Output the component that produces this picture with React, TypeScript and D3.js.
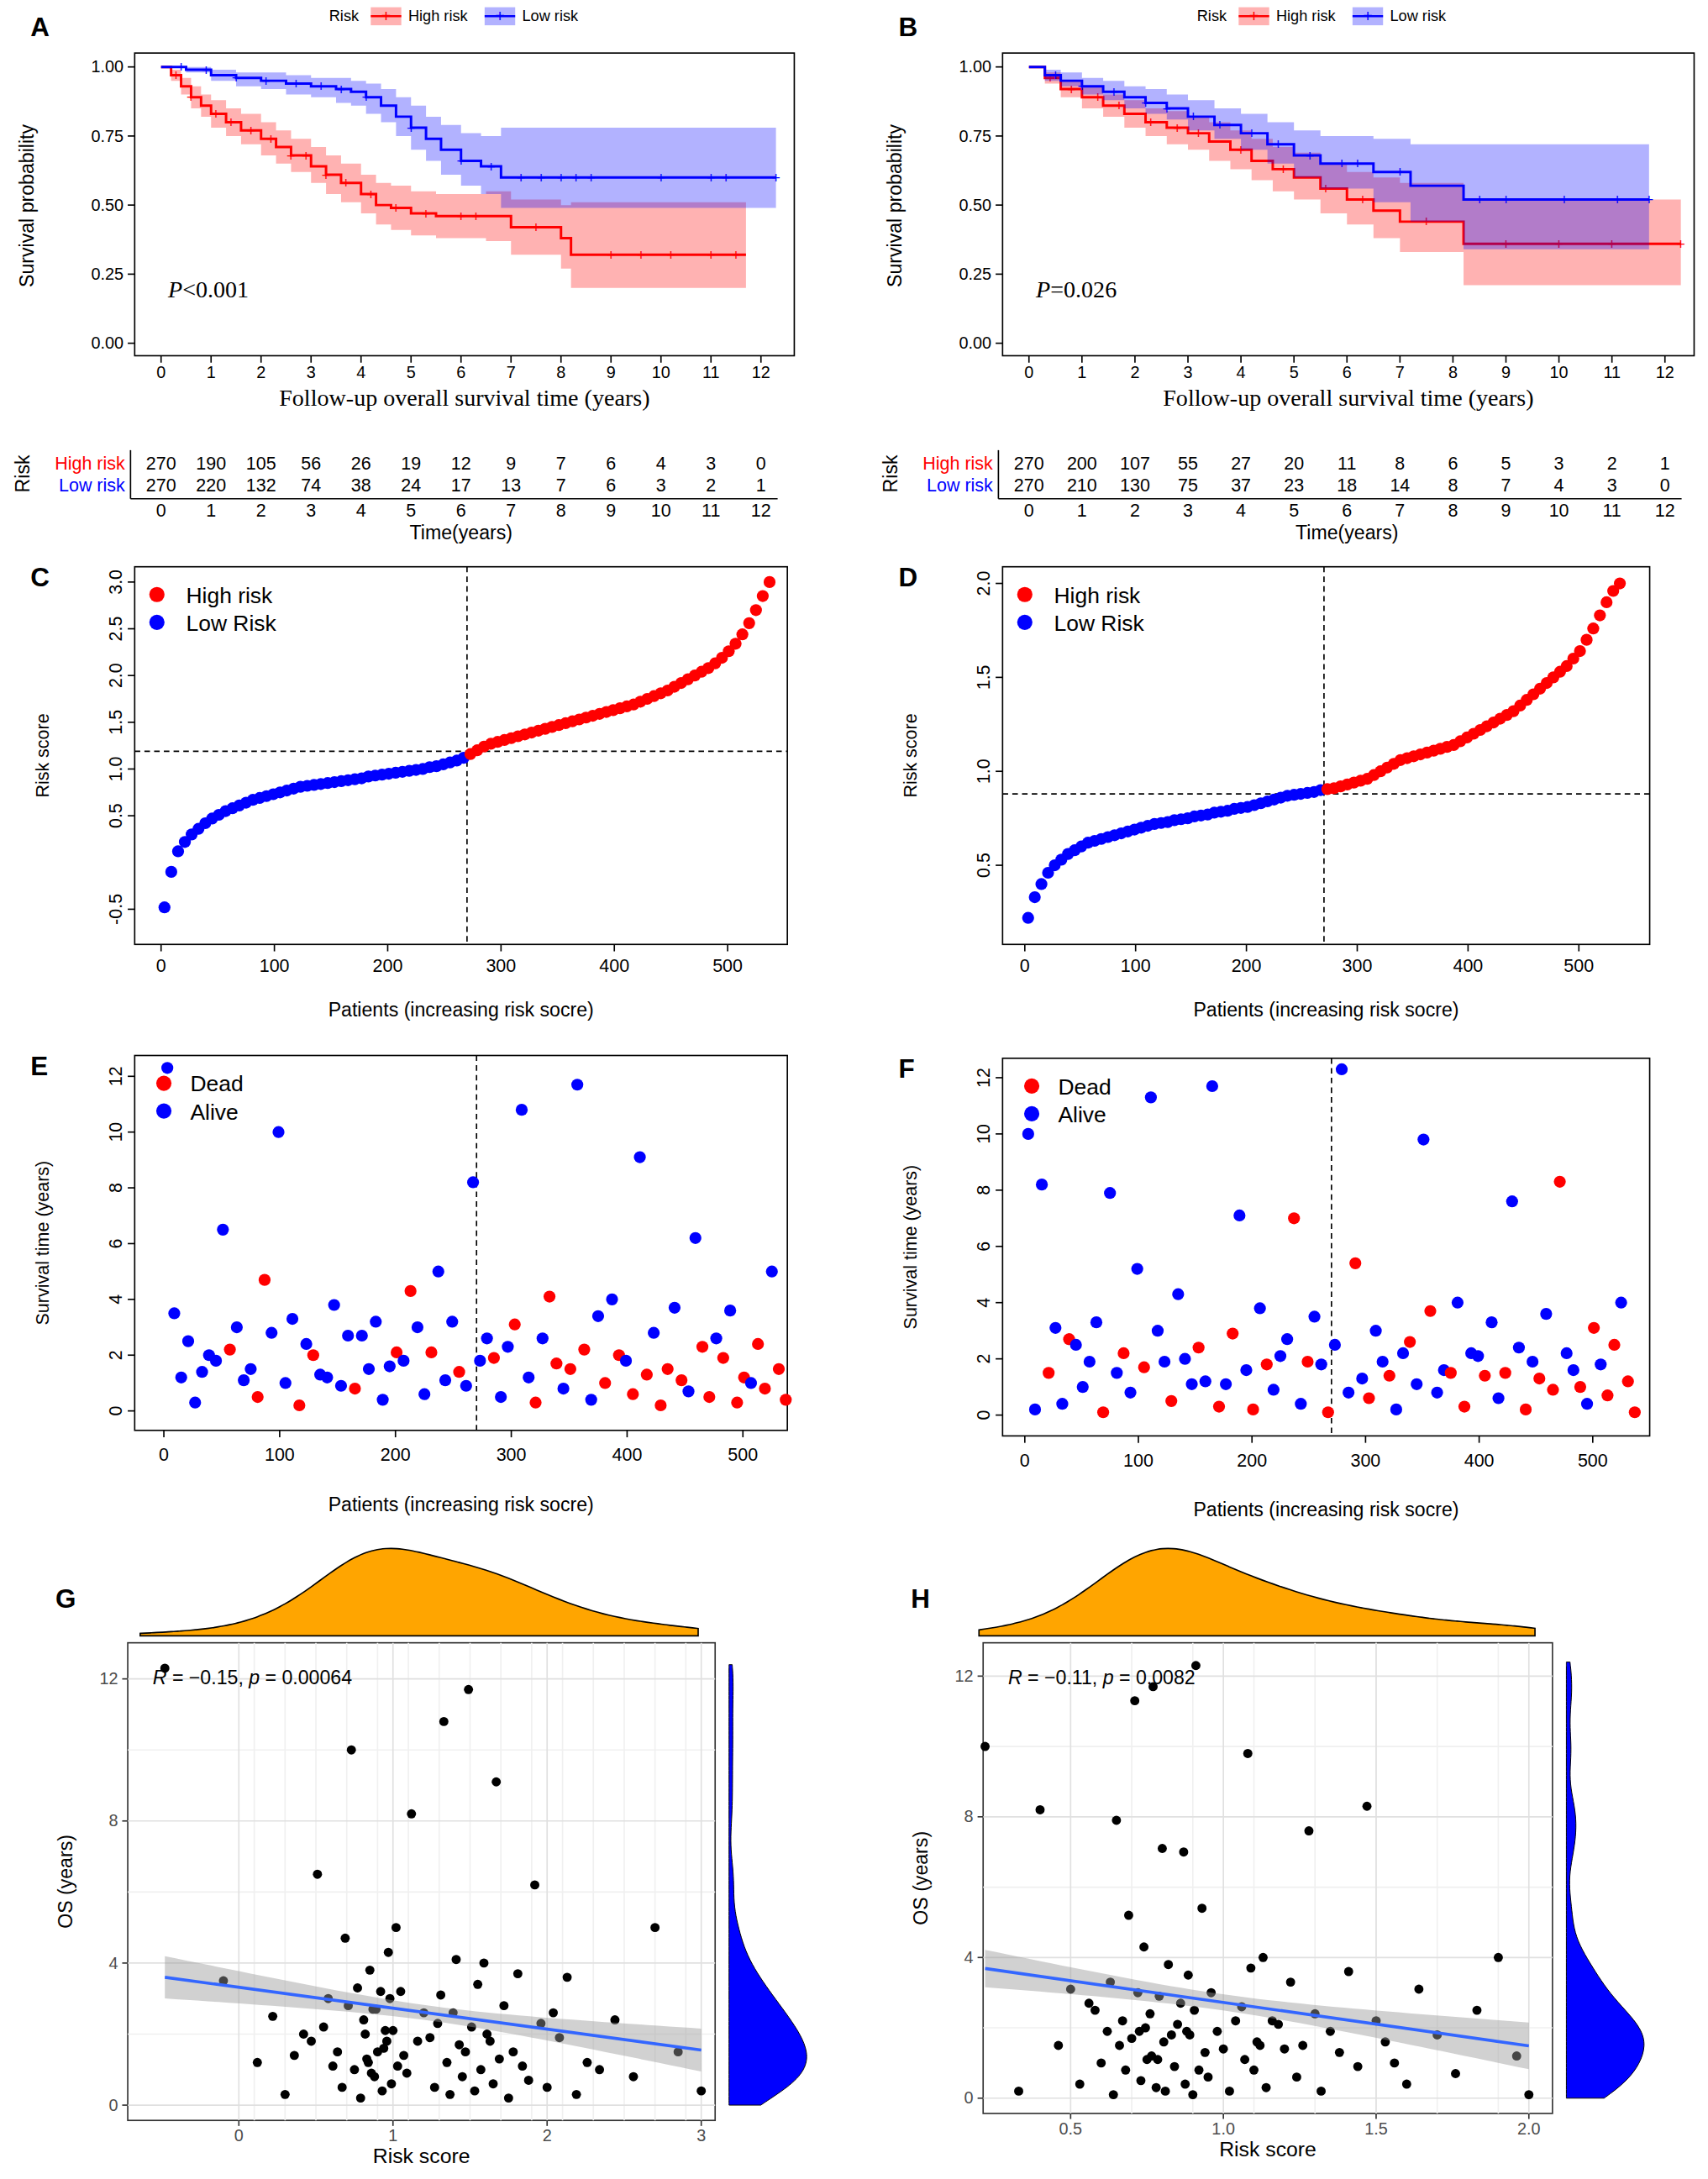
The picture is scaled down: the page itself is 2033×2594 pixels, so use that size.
import React from 'react';
import * as d3 from 'd3';

// ---- survival curves (time in years, survival, lower CI, upper CI)
const kmTrainHighT = [0, 0.2, 0.4, 0.6, 0.8, 1, 1.3, 1.6, 2, 2.3, 2.6, 3, 3.3, 3.6, 4, 4.3, 4.6, 5, 5.5, 6.5, 7, 8, 8.2, 11.7];
const kmTrainHighS = [1, 0.97, 0.93, 0.89, 0.86, 0.83, 0.8, 0.77, 0.74, 0.71, 0.68, 0.64, 0.61, 0.58, 0.54, 0.5, 0.49, 0.47, 0.46, 0.46, 0.42, 0.38, 0.32, 0.32];
const kmTrainHighL = [1, 0.95, 0.9, 0.85, 0.82, 0.78, 0.75, 0.72, 0.68, 0.65, 0.62, 0.58, 0.54, 0.51, 0.47, 0.43, 0.41, 0.39, 0.38, 0.37, 0.32, 0.27, 0.2, 0.2];
const kmTrainHighU = [1, 0.99, 0.96, 0.93, 0.9, 0.88, 0.85, 0.83, 0.8, 0.77, 0.74, 0.71, 0.68, 0.65, 0.61, 0.58, 0.57, 0.55, 0.54, 0.55, 0.52, 0.5, 0.51, 0.51];
const kmTrainLowT = [0, 0.5, 1, 1.5, 2, 2.5, 3, 3.5, 3.8, 4.1, 4.4, 4.7, 5, 5.3, 5.6, 6, 6.4, 6.8, 12.3];
const kmTrainLowS = [1, 0.99, 0.97, 0.96, 0.95, 0.94, 0.93, 0.92, 0.91, 0.89, 0.86, 0.82, 0.78, 0.74, 0.7, 0.66, 0.64, 0.6, 0.6];
const kmTrainLowL = [1, 0.98, 0.95, 0.93, 0.92, 0.9, 0.89, 0.87, 0.86, 0.83, 0.8, 0.75, 0.7, 0.66, 0.61, 0.57, 0.54, 0.49, 0.49];
const kmTrainLowU = [1, 1, 0.99, 0.98, 0.98, 0.97, 0.96, 0.96, 0.95, 0.94, 0.92, 0.89, 0.86, 0.82, 0.79, 0.76, 0.75, 0.78, 0.78];
const kmTrainHighCens = [0.3, 0.6, 1.1, 1.4, 1.8, 2.2, 2.6, 2.9, 3.3, 3.7, 4.2, 4.7, 5.3, 6.0, 6.3, 7.5, 9.0, 9.6, 10.2, 11.0, 11.5];
const kmTrainLowCens = [0.4, 0.9, 1.5, 2.1, 2.7, 3.2, 3.6, 4.1, 5.0, 6.0, 6.6, 7.2, 7.6, 8.0, 8.3, 8.6, 10.0, 11.0, 11.3, 12.3];

const kmValHighT = [0, 0.3, 0.6, 1, 1.4, 1.8, 2.2, 2.6, 3, 3.4, 3.8, 4.2, 4.6, 5, 5.5, 6, 6.5, 7, 8.2, 12.3];
const kmValHighS = [1, 0.96, 0.92, 0.89, 0.86, 0.83, 0.8, 0.78, 0.76, 0.73, 0.7, 0.66, 0.63, 0.6, 0.56, 0.52, 0.48, 0.44, 0.36, 0.36];
const kmValHighL = [1, 0.94, 0.89, 0.85, 0.82, 0.78, 0.75, 0.72, 0.7, 0.66, 0.63, 0.59, 0.55, 0.52, 0.47, 0.43, 0.38, 0.33, 0.21, 0.21];
const kmValHighU = [1, 0.98, 0.95, 0.93, 0.9, 0.88, 0.85, 0.84, 0.82, 0.8, 0.77, 0.74, 0.71, 0.69, 0.65, 0.62, 0.6, 0.58, 0.52, 0.52];
const kmValLowT = [0, 0.3, 0.6, 1, 1.4, 1.8, 2.2, 2.6, 3, 3.5, 4, 4.5, 5, 5.5, 6.5, 7.2, 8.2, 11.7];
const kmValLowS = [1, 0.97, 0.95, 0.93, 0.91, 0.89, 0.87, 0.85, 0.82, 0.79, 0.76, 0.72, 0.68, 0.65, 0.62, 0.57, 0.52, 0.52];
const kmValLowL = [1, 0.95, 0.93, 0.9, 0.88, 0.85, 0.83, 0.81, 0.77, 0.74, 0.7, 0.65, 0.6, 0.56, 0.51, 0.44, 0.34, 0.34];
const kmValLowU = [1, 0.99, 0.98, 0.96, 0.95, 0.93, 0.92, 0.9, 0.88, 0.85, 0.83, 0.8, 0.77, 0.75, 0.74, 0.72, 0.72, 0.72];
const kmValHighCens = [0.4, 0.8, 1.3, 1.7, 2.3, 2.8, 3.2, 4.0, 4.8, 5.6, 6.3, 7.5, 9.0, 10.0, 11.0, 12.3];
const kmValLowCens = [0.5, 1.0, 1.6, 2.2, 2.6, 3.1, 3.6, 4.2, 4.7, 5.3, 5.9, 6.2, 7.0, 8.5, 9.0, 10.1, 11.1, 11.7];

const years = d3.range(0, 13);
const atRiskTrainHigh = [270, 190, 105, 56, 26, 19, 12, 9, 7, 6, 4, 3, 0];
const atRiskTrainLow = [270, 220, 132, 74, 38, 24, 17, 13, 7, 6, 3, 2, 1];
const atRiskValHigh = [270, 200, 107, 55, 27, 20, 11, 8, 6, 5, 3, 2, 1];
const atRiskValLow = [270, 210, 130, 75, 37, 23, 18, 14, 8, 7, 4, 3, 0];

// ---- patients (each entry stands for 6 patients, sorted by risk score)
const riskTrain = [-0.48, -0.1, 0.12, 0.22, 0.3, 0.36, 0.42, 0.47, 0.51, 0.55, 0.58, 0.61, 0.64, 0.67, 0.69, 0.71, 0.73, 0.75, 0.77, 0.79, 0.81, 0.82, 0.83, 0.84, 0.85, 0.86, 0.87, 0.88, 0.89, 0.9, 0.92, 0.93, 0.94, 0.95, 0.96, 0.97, 0.98, 0.99, 1.0, 1.02, 1.03, 1.05, 1.07, 1.09, 1.12, 1.16, 1.2, 1.24, 1.27, 1.29, 1.31, 1.33, 1.35, 1.37, 1.39, 1.41, 1.43, 1.45, 1.47, 1.49, 1.51, 1.53, 1.55, 1.57, 1.59, 1.61, 1.63, 1.65, 1.67, 1.69, 1.72, 1.75, 1.78, 1.81, 1.84, 1.88, 1.92, 1.96, 2.0, 2.04, 2.08, 2.13, 2.19, 2.26, 2.34, 2.44, 2.56, 2.7, 2.85, 3.0];
const osTrain = [12.3, 3.5, 1.2, 2.5, 0.3, 1.4, 2.0, 1.8, 6.5, 2.2, 3.0, 1.1, 1.5, 0.5, 4.7, 2.8, 10.0, 1.0, 3.3, 0.2, 2.4, 2.0, 1.3, 1.2, 3.8, 0.9, 2.7, 0.8, 2.7, 1.5, 3.2, 0.4, 1.6, 2.1, 1.8, 4.3, 3.0, 0.6, 2.1, 5.0, 1.1, 3.2, 1.4, 0.9, 8.2, 1.8, 2.6, 1.9, 0.5, 2.3, 3.1, 10.8, 1.2, 0.3, 2.6, 4.1, 1.7, 0.8, 1.5, 11.7, 2.2, 0.4, 3.4, 1.0, 4.0, 2.0, 1.8, 0.6, 9.1, 1.3, 2.8, 0.2, 1.5, 3.7, 1.1, 0.7, 6.2, 2.3, 0.5, 2.6, 1.9, 3.6, 0.3, 1.2, 1.0, 2.4, 0.8, 5.0, 1.5, 0.4];
const deadTrain = [0, 0, 0, 0, 0, 0, 0, 0, 0, 1, 0, 0, 0, 1, 1, 0, 0, 0, 0, 1, 0, 1, 0, 0, 0, 0, 0, 1, 0, 0, 0, 0, 0, 1, 0, 1, 0, 0, 1, 0, 0, 0, 1, 0, 0, 0, 0, 1, 0, 0, 1, 0, 0, 1, 0, 1, 1, 0, 1, 0, 1, 0, 0, 1, 0, 1, 0, 1, 0, 1, 0, 1, 1, 0, 1, 0, 0, 1, 1, 0, 1, 0, 1, 1, 0, 1, 1, 0, 1, 1];

const riskVal = [0.22, 0.33, 0.4, 0.46, 0.5, 0.53, 0.56, 0.58, 0.6, 0.62, 0.63, 0.64, 0.65, 0.66, 0.67, 0.68, 0.69, 0.7, 0.71, 0.72, 0.725, 0.73, 0.74, 0.745, 0.75, 0.76, 0.765, 0.77, 0.78, 0.785, 0.79, 0.8, 0.805, 0.81, 0.82, 0.83, 0.84, 0.85, 0.86, 0.87, 0.875, 0.88, 0.885, 0.89, 0.9, 0.905, 0.91, 0.92, 0.93, 0.94, 0.95, 0.96, 0.98, 1.0, 1.02, 1.04, 1.06, 1.07, 1.08, 1.09, 1.1, 1.11, 1.12, 1.13, 1.14, 1.16, 1.18, 1.2, 1.22, 1.24, 1.26, 1.28, 1.3, 1.32, 1.35, 1.38, 1.41, 1.44, 1.47, 1.5, 1.53, 1.56, 1.6, 1.64, 1.7, 1.76, 1.83, 1.9, 1.96, 2.0];
const osVal = [10.0, 0.2, 8.2, 1.5, 3.1, 0.4, 2.7, 2.5, 1.0, 1.9, 3.3, 0.1, 7.9, 1.5, 2.2, 0.8, 5.2, 1.7, 11.3, 3.0, 1.9, 0.5, 4.3, 2.0, 1.1, 2.4, 1.2, 11.7, 0.3, 1.1, 2.9, 7.1, 1.6, 0.2, 3.8, 1.8, 0.9, 2.1, 2.7, 7.0, 0.4, 1.9, 3.5, 1.8, 0.1, 2.5, 12.3, 0.8, 5.4, 1.3, 0.6, 3.0, 1.9, 1.4, 0.2, 2.2, 2.6, 1.1, 9.8, 3.7, 0.8, 1.6, 1.5, 4.0, 0.3, 2.2, 2.1, 1.4, 3.3, 0.6, 1.5, 7.6, 2.4, 0.2, 1.9, 1.3, 3.6, 0.9, 8.3, 2.2, 1.6, 1.0, 0.4, 3.1, 1.8, 0.7, 2.5, 4.0, 1.2, 0.1];
const deadVal = [0, 0, 0, 1, 0, 0, 1, 0, 0, 0, 0, 1, 0, 0, 1, 0, 0, 1, 0, 0, 0, 1, 0, 0, 0, 1, 0, 0, 1, 0, 1, 0, 0, 1, 0, 1, 0, 0, 0, 1, 0, 1, 0, 0, 1, 0, 0, 0, 1, 0, 1, 0, 0, 1, 0, 0, 1, 0, 0, 1, 0, 0, 1, 0, 1, 0, 0, 1, 0, 0, 1, 0, 0, 1, 0, 1, 0, 1, 1, 0, 0, 1, 0, 1, 0, 1, 1, 0, 1, 1];

const RED = '#ff0000';
const BLUE = '#0000ff';
const SANS = 'Liberation Sans, Arial, sans-serif';
const SERIF = 'Liberation Serif, Times New Roman, serif';

const patientIdx = (i: number) => i * 6 + 3;

function stepAt(t: number, T: number[], S: number[]) {
  let s = S[0];
  for (let i = 0; i < T.length; i++) if (T[i] <= t) s = S[i];
  return s;
}

function kde(values: number[], bw: number, grid: number[]) {
  const k = (u: number) => Math.exp(-0.5 * u * u) / Math.sqrt(2 * Math.PI);
  return grid.map(g => [g, d3.mean(values, v => k((g - v) / bw))! / bw] as [number, number]);
}

const Label = ({ x, y, t }: { x: number; y: number; t: string }) => (
  <text x={x} y={y} fontFamily={SANS} fontWeight="bold" fontSize={19}>{t}</text>
);

interface KMProps {
  x0: number; x1: number; tx0: number; tx12: number; letter: string; p: string;
  hi: number[][]; lo: number[][]; hiC: number[]; loC: number[];
  rHi: number[]; rLo: number[];
}

const KMPanel = ({ x0, x1, tx0, tx12, letter, p, hi, lo, hiC, loC, rHi, rLo }: KMProps) => {
  const sx = d3.scaleLinear([0, 12], [tx0, tx12]);
  const sy = d3.scaleLinear([0, 1], [247, 48]);
  const line = d3.line<[number, number]>().x(d => sx(d[0])).y(d => sy(d[1])).curve(d3.curveStepAfter);
  const area = d3.area<[number, number, number]>().x(d => sx(d[0])).y0(d => sy(d[1])).y1(d => sy(d[2])).curve(d3.curveStepAfter);
  const groups = [
    { g: hi, c: hiC, col: RED, fill: 'rgba(255,0,0,0.3)' },
    { g: lo, c: loC, col: BLUE, fill: 'rgba(0,0,255,0.3)' },
  ];
  const lx = x0 + 140;
  return (
    <g>
      <Label x={x0 - 75} y={26} t={letter} />
      <g fontFamily={SANS} fontSize={11}>
        <text x={lx} y={15}>Risk</text>
        <rect x={lx + 30} y={5} width={22} height={13} fill="rgba(255,0,0,0.3)" />
        <line x1={lx + 30} x2={lx + 52} y1={11.5} y2={11.5} stroke={RED} strokeWidth={1.5} />
        <text x={lx + 41} y={15.5} textAnchor="middle" fill={RED} fontSize={12}>+</text>
        <text x={lx + 57} y={15}>High risk</text>
        <rect x={lx + 112} y={5} width={22} height={13} fill="rgba(0,0,255,0.3)" />
        <line x1={lx + 112} x2={lx + 134} y1={11.5} y2={11.5} stroke={BLUE} strokeWidth={1.5} />
        <text x={lx + 123} y={15.5} textAnchor="middle" fill={BLUE} fontSize={12}>+</text>
        <text x={lx + 139} y={15}>Low risk</text>
      </g>
      <rect x={x0} y={38} width={x1 - x0} height={218} fill="none" stroke="#000" />
      {groups.map((G, i) => {
        const T = G.g[0], S = G.g[1];
        const band = T.map((t, j) => [t, G.g[2][j], G.g[3][j]] as [number, number, number]);
        return (
          <g key={i}>
            <path d={area(band)!} fill={G.fill} />
            <path d={line(T.map((t, j) => [t, S[j]] as [number, number]))!} fill="none" stroke={G.col} strokeWidth={1.8} />
            {G.c.map((t, j) => (
              <text key={j} x={sx(t)} y={sy(stepAt(t, T, S)) + 4} textAnchor="middle" fontSize={11} fill={G.col} fontFamily={SANS}>+</text>
            ))}
          </g>
        );
      })}
      <g fontFamily={SANS} fontSize={12}>
        {[0, 0.25, 0.5, 0.75, 1].map(v => (
          <g key={v}>
            <line x1={x0 - 5} x2={x0} y1={sy(v)} y2={sy(v)} stroke="#000" />
            <text x={x0 - 8} y={sy(v) + 4} textAnchor="end">{v.toFixed(2)}</text>
          </g>
        ))}
        {years.map(v => (
          <g key={v}>
            <line x1={sx(v)} x2={sx(v)} y1={256} y2={261} stroke="#000" />
            <text x={sx(v)} y={272} textAnchor="middle">{v}</text>
          </g>
        ))}
        <text transform={`translate(${x0 - 73},148) rotate(-90)`} textAnchor="middle" fontSize={14}>Survival probability</text>
      </g>
      <text x={(x0 + x1) / 2} y={292} textAnchor="middle" fontFamily={SERIF} fontSize={17}>Follow-up overall survival time (years)</text>
      <text x={x0 + 24} y={214} fontFamily={SERIF} fontSize={17}><tspan fontStyle="italic">P</tspan>{p}</text>
      {/* risk table */}
      <g fontFamily={SANS} fontSize={13}>
        <text transform={`translate(${x0 - 76},341) rotate(-90)`} textAnchor="middle" fontSize={14}>Risk</text>
        <text x={x0 - 7} y={338} textAnchor="end" fill={RED}>High risk</text>
        <text x={x0 - 7} y={354} textAnchor="end" fill={BLUE}>Low risk</text>
        <line x1={x0 - 3} x2={x0 - 3} y1={324} y2={359} stroke="#000" />
        <line x1={x0 - 3} x2={tx12 + 12} y1={359} y2={359} stroke="#000" />
        {years.map((v, i) => (
          <g key={v}>
            <text x={sx(v)} y={338} textAnchor="middle">{rHi[i]}</text>
            <text x={sx(v)} y={354} textAnchor="middle">{rLo[i]}</text>
            <text x={sx(v)} y={372} textAnchor="middle">{v}</text>
          </g>
        ))}
        <text x={(tx0 + tx12) / 2} y={388} textAnchor="middle" fontSize={14}>Time(years)</text>
      </g>
    </g>
  );
};

interface RCProps { x0: number; x1: number; px0: number; px500: number; letter: string; risk: number[]; sy: d3.ScaleLinear<number, number>; ticks: number[]; cut: number }

const RiskCurve = ({ x0, x1, px0, px500, letter, risk, sy, ticks, cut }: RCProps) => {
  const sx = d3.scaleLinear([0, 500], [px0, px500]);
  const y0 = 408, y1 = 680;
  return (
    <g fontFamily={SANS}>
      <Label x={x0 - 75} y={422} t={letter} />
      <rect x={x0} y={y0} width={x1 - x0} height={y1 - y0} fill="none" stroke="#000" />
      <line x1={sx(270)} x2={sx(270)} y1={y0} y2={y1} stroke="#000" strokeDasharray="4,3" />
      <line x1={x0} x2={x1} y1={sy(cut)} y2={sy(cut)} stroke="#000" strokeDasharray="4,3" />
      {risk.map((r, i) => (
        <circle key={i} cx={sx(patientIdx(i))} cy={sy(r)} r={4.3} fill={i < 45 ? BLUE : RED} />
      ))}
      <circle cx={x0 + 16} cy={428} r={5.5} fill={RED} />
      <text x={x0 + 37} y={434} fontSize={16}>High risk</text>
      <circle cx={x0 + 16} cy={448} r={5.5} fill={BLUE} />
      <text x={x0 + 37} y={454} fontSize={16}>Low Risk</text>
      {ticks.map(v => (
        <g key={v} fontSize={13}>
          <line x1={x0 - 5} x2={x0} y1={sy(v)} y2={sy(v)} stroke="#000" />
          <text transform={`translate(${x0 - 9},${sy(v)}) rotate(-90)`} textAnchor="middle">{v.toFixed(1)}</text>
        </g>
      ))}
      {[0, 100, 200, 300, 400, 500].map(v => (
        <g key={v} fontSize={13}>
          <line x1={sx(v)} x2={sx(v)} y1={y1} y2={y1 + 5} stroke="#000" />
          <text x={sx(v)} y={y1 + 20} textAnchor="middle">{v}</text>
        </g>
      ))}
      <text transform={`translate(${x0 - 62},${(y0 + y1) / 2}) rotate(-90)`} textAnchor="middle" fontSize={13}>Risk score</text>
      <text x={(x0 + x1) / 2} y={732} textAnchor="middle" fontSize={14}>Patients (increasing risk socre)</text>
    </g>
  );
};

interface SSProps { x0: number; x1: number; y0: number; y1: number; px0: number; px500: number; yz: number; y12: number; letter: string; os: number[]; dead: number[] }

const StatusScatter = ({ x0, x1, y0, y1, px0, px500, yz, y12, letter, os, dead }: SSProps) => {
  const sx = d3.scaleLinear([0, 500], [px0, px500]);
  const sy = d3.scaleLinear([0, 12], [yz, y12]);
  return (
    <g fontFamily={SANS}>
      <Label x={x0 - 75} y={y0 + 14} t={letter} />
      <rect x={x0} y={y0} width={x1 - x0} height={y1 - y0} fill="none" stroke="#000" />
      <line x1={sx(270)} x2={sx(270)} y1={y0} y2={y1} stroke="#000" strokeDasharray="4,3" />
      {os.map((v, i) => (
        <circle key={i} cx={sx(patientIdx(i))} cy={sy(v)} r={4.3} fill={dead[i] ? RED : BLUE} />
      ))}
      <circle cx={x0 + 21} cy={y0 + 20} r={5.5} fill={RED} />
      <text x={x0 + 40} y={y0 + 26} fontSize={16}>Dead</text>
      <circle cx={x0 + 21} cy={y0 + 40} r={5.5} fill={BLUE} />
      <text x={x0 + 40} y={y0 + 46} fontSize={16}>Alive</text>
      {[0, 2, 4, 6, 8, 10, 12].map(v => (
        <g key={v} fontSize={13}>
          <line x1={x0 - 5} x2={x0} y1={sy(v)} y2={sy(v)} stroke="#000" />
          <text transform={`translate(${x0 - 9},${sy(v)}) rotate(-90)`} textAnchor="middle">{v}</text>
        </g>
      ))}
      {[0, 100, 200, 300, 400, 500].map(v => (
        <g key={v} fontSize={13}>
          <line x1={sx(v)} x2={sx(v)} y1={y1} y2={y1 + 5} stroke="#000" />
          <text x={sx(v)} y={y1 + 22} textAnchor="middle">{v}</text>
        </g>
      ))}
      <text transform={`translate(${x0 - 62},${(y0 + y1) / 2}) rotate(-90)`} textAnchor="middle" fontSize={13}>Survival time (years)</text>
      <text x={(x0 + x1) / 2} y={y1 + 58} textAnchor="middle" fontSize={14}>Patients (increasing risk socre)</text>
    </g>
  );
};

interface CPProps { x0: number; x1: number; y0: number; y1: number; yz: number; y12: number; sx: d3.ScaleLinear<number, number>; xt: number[]; xfmt: (v: number) => string; letter: string; risk: number[]; os: number[]; txt: [string, string]; bwR: number; dx: [number, number] }

const CorrPanel = ({ x0, x1, y0, y1, yz, y12, sx, xt, xfmt, letter, risk, os, txt, bwR, dx }: CPProps) => {
  const sy = d3.scaleLinear([0, 12], [yz, y12]);
  const n = risk.length;
  const mx = d3.mean(risk)!, my = d3.mean(os)!;
  const sxx = d3.sum(risk, v => (v - mx) ** 2);
  const b = d3.sum(risk, (v, i) => (v - mx) * (os[i] - my)) / sxx;
  const a = my - b * mx;
  const s = Math.sqrt(d3.sum(risk, (v, i) => (os[i] - a - b * v) ** 2) / (n - 2));
  const [lo, hi] = d3.extent(risk) as [number, number];
  const grid = d3.range(0, 51).map(i => lo + (hi - lo) * i / 50);
  // band drawn with the full cohort size (540) in the standard error
  const band = grid.map(g => {
    const se = 1.96 * s * Math.sqrt(1 / 540 + (g - mx) ** 2 / (sxx * 6));
    return [g, a + b * g - se, a + b * g + se] as [number, number, number];
  });
  const gx = sx.ticks(10);
  const gxm = d3.range(gx.length - 1).map(i => (gx[i] + gx[i + 1]) / 2);
  const dgrid = d3.range(0, 101).map(i => dx[0] + (dx[1] - dx[0]) * i / 100);
  const dTop = kde(risk, bwR, dgrid);
  const tMax = d3.max(dTop, d => d[1])!;
  const tY = d3.scaleLinear([0, tMax], [y0 - 5, y0 - 68]);
  const topArea = d3.area<[number, number]>().x(d => sx(d[0])).y0(y0 - 5).y1(d => tY(d[1])).curve(d3.curveBasis);
  const oGrid = d3.range(0, 101).map(i => 12.4 * i / 100);
  const dR = kde(os, 0.6, oGrid);
  const rMax = d3.max(dR, d => d[1])!;
  const rX = d3.scaleLinear([0, rMax], [x1 + 10, x1 + 66]);
  const rArea = d3.area<[number, number]>().y(d => sy(d[0])).x0(x1 + 10).x1(d => rX(d[1])).curve(d3.curveBasis);
  return (
    <g fontFamily={SANS}>
      <Label x={x0 - 52} y={y0 - 25} t={letter} />
      <path d={topArea(dTop)!} fill="#ffa500" stroke="#000" strokeWidth={1} />
      <path d={rArea(dR)!} fill={BLUE} stroke="#000" strokeWidth={0.6} />
      <rect x={x0} y={y0} width={x1 - x0} height={y1 - y0} fill="#fff" stroke="#333" />
      {[2, 6, 10].map(v => <line key={'m' + v} x1={x0} x2={x1} y1={sy(v)} y2={sy(v)} stroke="#f0f0f0" />)}
      {gxm.filter(v => sx(v) > x0 && sx(v) < x1).map(v => <line key={'xm' + v} x1={sx(v)} x2={sx(v)} y1={y0} y2={y1} stroke="#f0f0f0" />)}
      {[0, 4, 8, 12].map(v => <line key={'g' + v} x1={x0} x2={x1} y1={sy(v)} y2={sy(v)} stroke="#e0e0e0" />)}
      {xt.map(v => <line key={'gx' + v} x1={sx(v)} x2={sx(v)} y1={y0} y2={y1} stroke="#e0e0e0" />)}
      {risk.map((r, i) => <circle key={i} cx={sx(r)} cy={sy(os[i])} r={3.3} fill="#000" />)}
      <path d={d3.area<[number, number, number]>().x(d => sx(d[0])).y0(d => sy(d[1])).y1(d => sy(d[2]))(band)!} fill="#999" opacity={0.45} />
      <line x1={sx(lo)} x2={sx(hi)} y1={sy(a + b * lo)} y2={sy(a + b * hi)} stroke="#3366ff" strokeWidth={2.2} />
      <text x={x0 + 18} y={y0 + 30} fontSize={14}><tspan fontStyle="italic">R</tspan>{txt[0]}<tspan fontStyle="italic">p</tspan>{txt[1]}</text>
      {[0, 4, 8, 12].map(v => (
        <g key={v}>
          <line x1={x0 - 4} x2={x0} y1={sy(v)} y2={sy(v)} stroke="#333" />
          <text x={x0 - 7} y={sy(v) + 4} textAnchor="end" fontSize={12} fill="#4d4d4d">{v}</text>
        </g>
      ))}
      {xt.map(v => (
        <g key={v}>
          <line x1={sx(v)} x2={sx(v)} y1={y1} y2={y1 + 4} stroke="#333" />
          <text x={sx(v)} y={y1 + 15} textAnchor="middle" fontSize={12} fill="#4d4d4d">{xfmt(v)}</text>
        </g>
      ))}
      <text transform={`translate(${x0 - 40},${(y0 + y1) / 2}) rotate(-90)`} textAnchor="middle" fontSize={14}>OS (years)</text>
      <text x={(x0 + x1) / 2} y={y1 + 31} textAnchor="middle" fontSize={15}>Risk score</text>
    </g>
  );
};

export default function App() {
  return (
    <svg width={2033} height={2594} viewBox="0 0 1230 1569" style={{ position: 'absolute', left: 0, top: 0, background: '#fff' }}>
      <rect width={1230} height={1569} fill="#fff" />
      <KMPanel x0={97} x1={572} tx0={116} tx12={548} letter="A" p="<0.001"
        hi={[kmTrainHighT, kmTrainHighS, kmTrainHighL, kmTrainHighU]} lo={[kmTrainLowT, kmTrainLowS, kmTrainLowL, kmTrainLowU]}
        hiC={kmTrainHighCens} loC={kmTrainLowCens} rHi={atRiskTrainHigh} rLo={atRiskTrainLow} />
      <KMPanel x0={722} x1={1220} tx0={741} tx12={1199} letter="B" p="=0.026"
        hi={[kmValHighT, kmValHighS, kmValHighL, kmValHighU]} lo={[kmValLowT, kmValLowS, kmValLowL, kmValLowU]}
        hiC={kmValHighCens} loC={kmValLowCens} rHi={atRiskValHigh} rLo={atRiskValLow} />
      <RiskCurve x0={97} x1={567} px0={116} px500={524} letter="C" risk={riskTrain}
        sy={d3.scaleLinear([0, 3], [621, 419])} ticks={[-0.5, 0.5, 1.0, 1.5, 2.0, 2.5, 3.0]} cut={1.19} />
      <RiskCurve x0={722} x1={1188} px0={738} px500={1137} letter="D" risk={riskVal}
        sy={d3.scaleLinear([0.5, 2], [623, 420])} ticks={[0.5, 1.0, 1.5, 2.0]} cut={0.88} />
      <StatusScatter x0={97} x1={567} y0={760} y1={1030} px0={118} px500={535} yz={1016} y12={775} letter="E" os={osTrain} dead={deadTrain} />
      <StatusScatter x0={722} x1={1188} y0={762} y1={1034} px0={738} px500={1147} yz={1019} y12={776} letter="F" os={osVal} dead={deadVal} />
      <CorrPanel x0={92} x1={515} y0={1183} y1={1527} yz={1516} y12={1209} sx={d3.scaleLinear([0, 3], [172, 505])} xt={[0, 1, 2, 3]} xfmt={v => String(v)}
        letter="G" risk={riskTrain} os={osTrain} txt={[' = \u22120.15, ', ' = 0.00064']} bwR={0.3} dx={[-0.64, 2.98]} />
      <CorrPanel x0={708} x1={1118} y0={1183} y1={1522} yz={1511} y12={1207} sx={d3.scaleLinear([0.5, 2], [771, 1101])} xt={[0.5, 1.0, 1.5, 2.0]} xfmt={v => v.toFixed(1)}
        letter="H" risk={riskVal} os={osVal} txt={[' = \u22120.11, ', ' = 0.0082']} bwR={0.15} dx={[0.2, 2.02]} />
    </svg>
  );
}
